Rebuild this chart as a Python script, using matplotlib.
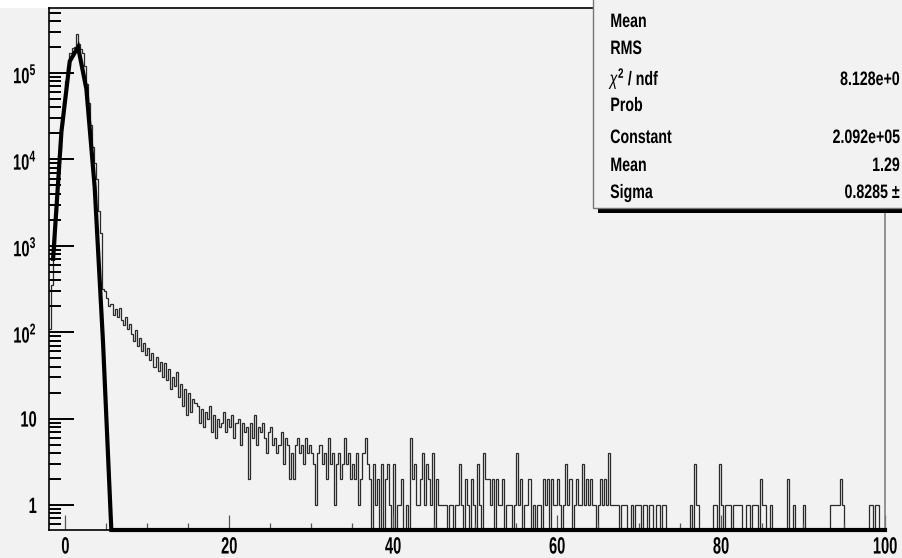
import matplotlib
matplotlib.use("Agg")
import matplotlib.pyplot as plt
import numpy as np
from matplotlib.patches import Rectangle
from matplotlib.patheffects import AbstractPathEffect
from matplotlib.transforms import Affine2D
from matplotlib.ticker import FixedLocator, FixedFormatter, MultipleLocator, LogLocator, NullFormatter

plt.rcParams['font.family'] = ['Liberation Sans', 'DejaVu Sans']
plt.rcParams['mathtext.fontset'] = 'custom'
plt.rcParams['mathtext.rm'] = 'Liberation Sans:bold'
plt.rcParams['mathtext.it'] = 'Liberation Sans:italic'
plt.rcParams['mathtext.bf'] = 'Liberation Sans:bold'

# histogram: bins of 0.25 from -2 to 100
bin_lo, bin_hi, bin_w = -2.0, 100.0, 0.25

# -2 .. 6
counts_peak = [
    110, 350, 900, 2400, 6000, 13000, 26000, 47000,
    80000, 120000, 170000, 195000, 200000, 285000, 215000, 190000,
    170000, 120000, 75000, 45000, 25000, 14000, 9000, 6000,
    2500, 1400, 320, 300, 250, 200, 210, 160,
]

# 6 .. 30
counts_mid = [
    185, 150, 190, 140, 120, 150, 110, 125, 95, 80, 105, 70, 85, 60, 75, 55,
    65, 48, 58, 40, 52, 36, 45, 30, 44, 28, 38, 22, 30, 24, 35, 18,
    25, 14, 22, 11, 20, 12, 17, 15, 14, 9, 13, 8, 12, 10, 14, 7,
    11, 6, 10, 8, 9, 12, 7, 10, 8, 11, 6, 9, 10, 5, 9, 7,
    8, 2, 9, 6, 11, 5, 8, 7, 9, 6, 4, 7, 8, 5, 6, 4,
    5, 7, 3, 6, 5, 2, 4, 2, 5, 6, 4, 5, 3, 6, 4, 5,
]

# 30 .. 100
counts_tail = [
    4, 3, 1, 4, 5, 3, 4, 2, 6, 3, 4, 1, 3, 4, 2, 3, 6, 3, 4, 2,
    3, 2, 4, 1, 2, 4, 6, 3, 2, 0, 3, 1, 2, 0, 3, 0, 2, 3, 1, 0,
    3, 0, 1, 1, 2, 0, 1, 0, 6, 2, 3, 1, 1, 2, 4, 1, 3, 2, 1, 4,
    0, 2, 1, 1, 1, 1, 0, 1, 1, 0, 1, 1, 3, 1, 0, 2, 1, 0, 2, 1,
    0, 3, 1, 0, 4, 2, 2, 1, 2, 0, 2, 1, 1, 2, 0, 1, 1, 1, 0, 1,
    4, 1, 2, 0, 1, 1, 2, 0, 1, 0, 1, 1, 0, 2, 1, 2, 0, 2, 1, 1,
    2, 1, 0, 1, 3, 1, 2, 0, 1, 2, 1, 1, 3, 1, 2, 1, 2, 1, 1, 0,
    1, 2, 1, 2, 1, 4, 1, 1, 1, 1, 0, 1, 1, 1, 0, 0, 1, 0, 1, 1,
    1, 0, 1, 1, 0, 1, 1, 0, 1, 1, 0, 1, 1, 0, 0, 0, 0, 0, 0, 0,
    0, 0, 0, 0, 0, 1, 0, 3, 1, 0, 0, 0, 0, 0, 0, 0, 1, 1, 0, 3,
    1, 0, 1, 1, 1, 0, 1, 1, 1, 1, 0, 0, 1, 1, 0, 1, 1, 1, 0, 2,
    1, 1, 0, 0, 1, 0, 0, 0, 0, 0, 0, 0, 2, 0, 0, 1, 0, 0, 0, 0,
    1, 0, 0, 0, 0, 0, 0, 0, 0, 0, 0, 0, 0, 1, 1, 1, 1, 1, 2, 1,
    0, 0, 0, 0, 0, 0, 0, 0, 0, 0, 0, 0, 1, 1, 0, 1, 1, 0, 0, 0,
]

# gaus fit parameters (from the stats box)
fit_const, fit_mean, fit_sigma = 2.092e5, 1.295, 0.8285
fit_range = (-1.5, 100.0)

ymin, ymax = 0.514, 5.65e5

# the stats box is cut by the canvas edge: only these parts show
stat_names = ["Mean", "RMS", r"$\chi^{2}$ / ndf", "Prob", "Constant", "Mean", "Sigma"]
stat_values = ["", "", "8.128e+0", "", "2.092e+05", "1.29", "0.8285 \u00b1"]


class Squeeze(AbstractPathEffect):
    # narrow the glyphs horizontally, like the condensed ROOT font
    def __init__(self, sx, anchor='left'):
        super().__init__()
        self.sx = sx
        self.anchor = anchor

    def draw_path(self, renderer, gc, tpath, affine, rgbFace=None):
        ext = tpath.get_extents()
        x0 = {'left': ext.x0, 'center': (ext.x0 + ext.x1) / 2, 'right': ext.x1}[self.anchor]
        t = Affine2D().translate(-x0, 0).scale(self.sx, 1).translate(x0, 0) + affine
        renderer.draw_path(gc, tpath, t, rgbFace)


W, H = 903, 558
fig = plt.figure(figsize=(W / 100, H / 100), dpi=100, facecolor='#f2f2f2')


def fx(px):
    return px / W


def fy(py):
    return 1 - py / H


ax = fig.add_axes([fx(49), fy(530), fx(885) - fx(49), fy(8) - fy(530)])
ax.set_facecolor('#f2f2f2')
fig.add_artist(Rectangle((0, fy(8)), 1, 8 / H, transform=fig.transFigure,
                         facecolor='white', edgecolor='none', zorder=-1))

counts = np.array(counts_peak + counts_mid + counts_tail, dtype=float)
edges = np.arange(len(counts) + 1) * bin_w + bin_lo
shown = np.where(counts > 0, counts, ymin * 0.05)
ax.stairs(shown, edges, baseline=None, color='#2a2a2a', lw=0.9)

xf = np.linspace(fit_range[0], fit_range[1], 101)
yf = fit_const * np.exp(-0.5 * ((xf - fit_mean) / fit_sigma) ** 2)
yf = np.maximum(yf, ymin)
ax.plot(xf, yf, color='black', lw=3.0, solid_joinstyle='miter', clip_on=False, zorder=3)

ax.set_yscale('log')
ax.set_xlim(bin_lo, bin_hi)
ax.set_ylim(ymin, ymax)

ax.xaxis.set_major_locator(MultipleLocator(20))
ax.xaxis.set_minor_locator(MultipleLocator(5))
ytick_vals = [1, 10, 100, 1e3, 1e4, 1e5]
ytick_labels = ['1', '10', r'$\mathregular{10^{2}}$', r'$\mathregular{10^{3}}$',
                r'$\mathregular{10^{4}}$', r'$\mathregular{10^{5}}$']
ax.yaxis.set_major_locator(FixedLocator(ytick_vals))
ax.yaxis.set_major_formatter(FixedFormatter(ytick_labels))
ax.yaxis.set_minor_locator(LogLocator(base=10, subs=np.arange(2, 10)))
ax.yaxis.set_minor_formatter(NullFormatter())

ax.tick_params(axis='y', which='major', direction='in', length=18, width=1.4,
               labelsize=16, pad=8.6, right=False)
ax.tick_params(axis='y', which='minor', direction='in', length=8.5, width=1.4, right=False)
ax.tick_params(axis='x', which='major', direction='in', length=11, width=0.9,
               labelsize=17, pad=4, top=False, color='#555555')
ax.tick_params(axis='x', which='minor', direction='in', length=5, width=0.9,
               top=False, color='#555555')

for t in ax.xaxis.get_major_ticks():
    t.label1.set_fontweight('bold')
    t.label1.set_path_effects([Squeeze(0.62, 'center')])
for t in ax.yaxis.get_major_ticks():
    t.label1.set_fontweight('bold')
    t.label1.set_path_effects([Squeeze(0.66, 'right')])

for side in ['left', 'top', 'bottom']:
    ax.spines[side].set_color('black')
    ax.spines[side].set_linewidth(1.2)
ax.spines['right'].set_color('#808080')
ax.spines['right'].set_linewidth(1.2)

# stats box (cut by the canvas edge at top and right)
fig.add_artist(Rectangle((fx(598), fy(213)), 1, 6 / H, transform=fig.transFigure,
                         facecolor='black', edgecolor='none', zorder=5))
fig.add_artist(Rectangle((fx(593), fy(208)), 1, 1, transform=fig.transFigure,
                         facecolor='#f2f2f2', edgecolor='#777777', lw=1.0, zorder=6))

name_base = [27, 54, 85, 111, 143, 171, 198]
for name, val, yb in zip(stat_names, stat_values, name_base):
    fig.text(fx(610), fy(yb), name, ha='left', va='baseline', fontsize=14,
             fontweight='bold', zorder=7, path_effects=[Squeeze(0.73, 'left')])
    if val:
        fig.text(fx(900), fy(yb), val, ha='right', va='baseline', fontsize=14,
                 fontweight='bold', zorder=7, path_effects=[Squeeze(0.73, 'right')])

fig.savefig('out.png', dpi=100, facecolor=fig.get_facecolor())
